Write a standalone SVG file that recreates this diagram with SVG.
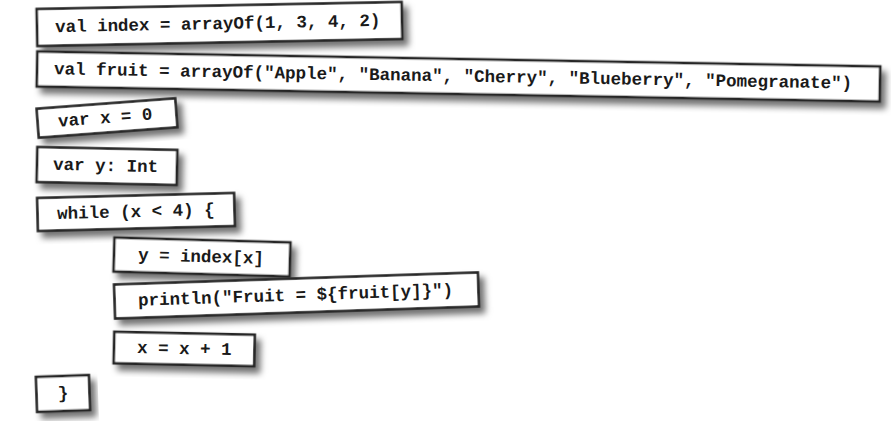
<svg xmlns="http://www.w3.org/2000/svg" width="891" height="421" viewBox="0 0 891 421">
  <defs>
    <filter id="shadow" x="-10%" y="-30%" width="125%" height="170%">
      <feDropShadow dx="5" dy="6" stdDeviation="3" flood-color="#000" flood-opacity="0.55"/>
    </filter>
  </defs>
  <style>
    .mag rect { fill: #fff; stroke: #262626; stroke-width: 2.6; filter: url(#shadow); }
    .mag text { font-family: "Liberation Mono", "Courier New", monospace; font-weight: bold; font-size: 17.5px; fill: #1a1a1a; white-space: pre; }
  </style>
  <rect width="891" height="421" fill="#fff"/>

  <g id="m-index" class="mag" transform="rotate(-1.1 219.5 24)">
    <rect x="37" y="5.5" width="365" height="37"/>
    <text x="55" y="29" xml:space="preserve">val index = arrayOf(1, 3, 4, 2)</text>
  </g>

  <g id="m-fruit" class="mag" transform="rotate(1.02 458.5 76.5)">
    <rect x="37" y="59" width="843" height="35"/>
    <text x="54" y="81.5" xml:space="preserve">val fruit = arrayOf("Apple", "Banana", "Cherry", "Blueberry", "Pomegranate")</text>
  </g>

  <g id="m-varx" class="mag" transform="rotate(-4.3 107 118)">
    <rect x="37.5" y="103.5" width="139" height="29"/>
    <text x="58" y="123" xml:space="preserve">var x = 0</text>
  </g>

  <g id="m-vary" class="mag" transform="rotate(1.2 107 166)">
    <rect x="37" y="148.5" width="140" height="35"/>
    <text x="53" y="171" xml:space="preserve">var y: Int</text>
  </g>

  <g id="m-while" class="mag" transform="rotate(-1.45 136 212)">
    <rect x="37.5" y="195.5" width="197" height="33"/>
    <text x="57" y="217" xml:space="preserve">while (x &lt; 4) {</text>
  </g>

  <g id="m-y" class="mag" transform="rotate(1.6 202 257)">
    <rect x="114" y="240" width="176" height="34"/>
    <text x="138" y="262" xml:space="preserve">y = index[x]</text>
  </g>

  <g id="m-println" class="mag" transform="rotate(-1.9 296.5 295.5)">
    <rect x="114.5" y="278.5" width="364" height="34"/>
    <text x="138" y="300.5" xml:space="preserve">println("Fruit = ${fruit[y]}")</text>
  </g>

  <g id="m-xinc" class="mag" transform="rotate(1.2 184 349)">
    <rect x="114" y="333.25" width="140.5" height="31.5"/>
    <text x="137" y="354" xml:space="preserve">x = x + 1</text>
  </g>

  <g id="m-close" class="mag" transform="rotate(-2 63 393.5)">
    <rect x="36.5" y="376" width="53" height="35"/>
    <text x="63" y="398.5" text-anchor="middle">}</text>
  </g>
</svg>
